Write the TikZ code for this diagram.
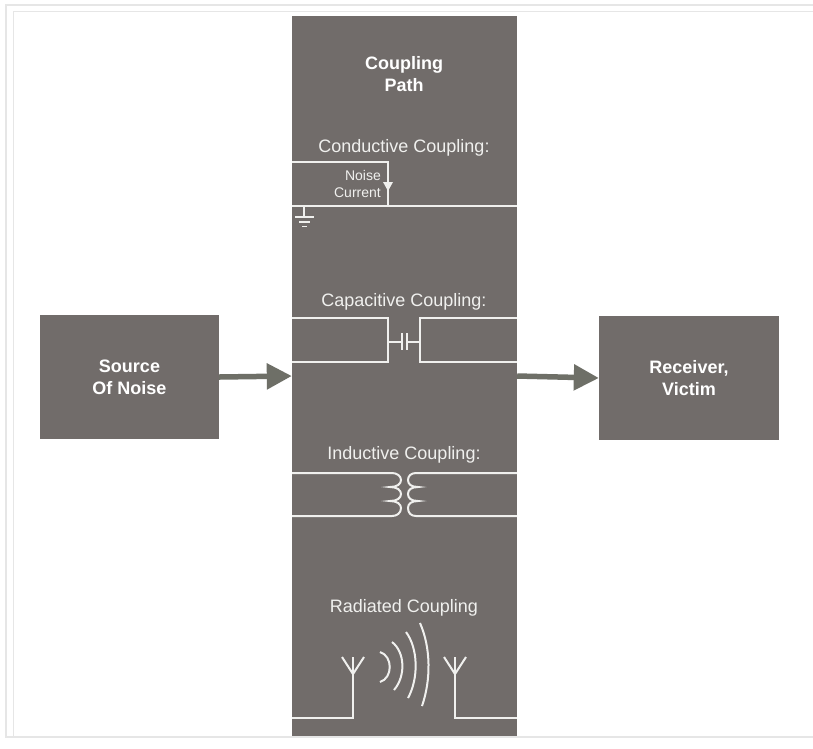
\documentclass[tikz,border=0pt]{standalone}
\usepackage{fontspec}
\setmainfont{Liberation Sans}
\usepackage{tikz}
\usetikzlibrary{arrows.meta}
\definecolor{boxgray}{HTML}{716C6A}
\definecolor{arrowgray}{HTML}{6E6F67}
\definecolor{wirewhite}{HTML}{F0F0EE}
\definecolor{framegray}{HTML}{E6E6E6}
\newcommand{\arw}{-{Triangle[length=25pt,width=25pt]}}
\tikzset{
  block/.style={fill=boxgray,text=white,font=\fontsize{18}{22}\selectfont\bfseries,align=center,inner sep=0pt},
  label/.style={text=wirewhite,font=\fontsize{18}{20}\selectfont,inner sep=0pt},
  wire/.style={draw=wirewhite,line width=2pt},
  flow/.style={draw=arrowgray,line width=5.5pt,\arw}
}
\begin{document}
\begin{tikzpicture}[x=1pt,y=-1pt]
\useasboundingbox (0,0) rectangle (813,748);
\fill[white] (0,0) rectangle (813,748);
%page frame
\draw[framegray,line width=1.5pt] (813,5) -- (6,5) -- (6,737) -- (813,737);
\draw[framegray,line width=1pt] (813,11.5) -- (13.5,11.5) -- (13.5,737);
%blocks
\node[block,minimum width=225pt,minimum height=720pt] (path) at (404.5,376) {};
\node[block,minimum width=179pt,minimum height=124pt] (source) at (129.5,377) {Source\\Of Noise};
\node[block,minimum width=180pt,minimum height=124pt] (victim) at (689,378) {Receiver,\\Victim};
\draw[flow] (source.east) -- (path.west);
\draw[flow] (path.east) -- (victim.west);
\node[label,font=\fontsize{18}{22}\selectfont\bfseries,text=white,align=center] (title) at (404,74) {Coupling\\Path};
%conductive coupling
\node[label] (conductive) at (404,148) {Conductive Coupling:};
\node[label,font=\fontsize{14}{17.5}\selectfont,align=right,anchor=east] (noise) at (381,184) {Noise\\Current};
\coordinate (c1) at (292,162);
\coordinate (c2) at (388,162);
\coordinate (c3) at (388,206);
\coordinate (c4) at (292,206);
\coordinate (c5) at (517,206);
\coordinate (g1) at (304,206);
\coordinate (g2) at (304,217);
\draw[wire] (c1) -- (c2) -- (c3);
\draw[wire] (c4) -- (c5);
\draw[wire] (g1) -- (g2);
\draw[wire] (295,217) -- (314,217);
\draw[wire,line width=1.6pt] (299,222) -- (310,222);
\draw[wire,line width=1.6pt] (302,226.5) -- (307,226.5);
\fill[wirewhite] (383,182) -- (393,182) -- (388,191) -- cycle;
%capacitive coupling
\node[label] (capacitive) at (404,302) {Capacitive Coupling:};
\draw[wire] (292,318) -- (388,318) -- (388,362) -- (292,362);
\draw[wire] (517,318) -- (420,318) -- (420,362) -- (517,362);
\draw[wire] (388,341.5) -- (402,341.5);
\draw[wire] (406.5,341.5) -- (420,341.5);
\draw[wire] (402,333) -- (402,350);
\draw[wire] (406.5,333) -- (406.5,350);
%inductive coupling
\node[label] (inductive) at (404,455) {Inductive Coupling:};
\draw[wire] (292,473) -- (392,473) .. controls (397,473) and (401,476) .. (401,480) .. controls (401,484) and (397,487) .. (390,487) .. controls (397,487) and (401,490) .. (401,494) .. controls (401,498) and (397,501) .. (390,501) .. controls (397,501) and (401,504) .. (401,508) .. controls (401,513) and (397,516) .. (392,516) -- (292,516);
\draw[wire] (517,473) -- (416,473) .. controls (411,473) and (408,476) .. (408,480) .. controls (408,484) and (411,487) .. (418,487) .. controls (411,487) and (408,490) .. (408,494) .. controls (408,498) and (411,501) .. (418,501) .. controls (411,501) and (408,504) .. (408,508) .. controls (408,513) and (411,516) .. (416,516) -- (517,516);
%radiated coupling
\node[label] (radiated) at (404,608) {Radiated Coupling};
\draw[wire] (292,718) -- (353,718) -- (353,657);
\draw[wire] (342,657) -- (353,674) -- (364,657);
\draw[wire] (517,718) -- (455,718) -- (455,657);
\draw[wire] (444,657) -- (455,674) -- (466,657);
\draw[wire] (380,652) .. controls (393,656) and (393,678) .. (380,682);
\draw[wire] (392,642) .. controls (405,652) and (406,676) .. (394,690);
\draw[wire] (406,632) .. controls (418,648) and (419,678) .. (408,698);
\draw[wire] (420,623) .. controls (431,648) and (431,680) .. (422,706);
\end{tikzpicture}
\end{document}
